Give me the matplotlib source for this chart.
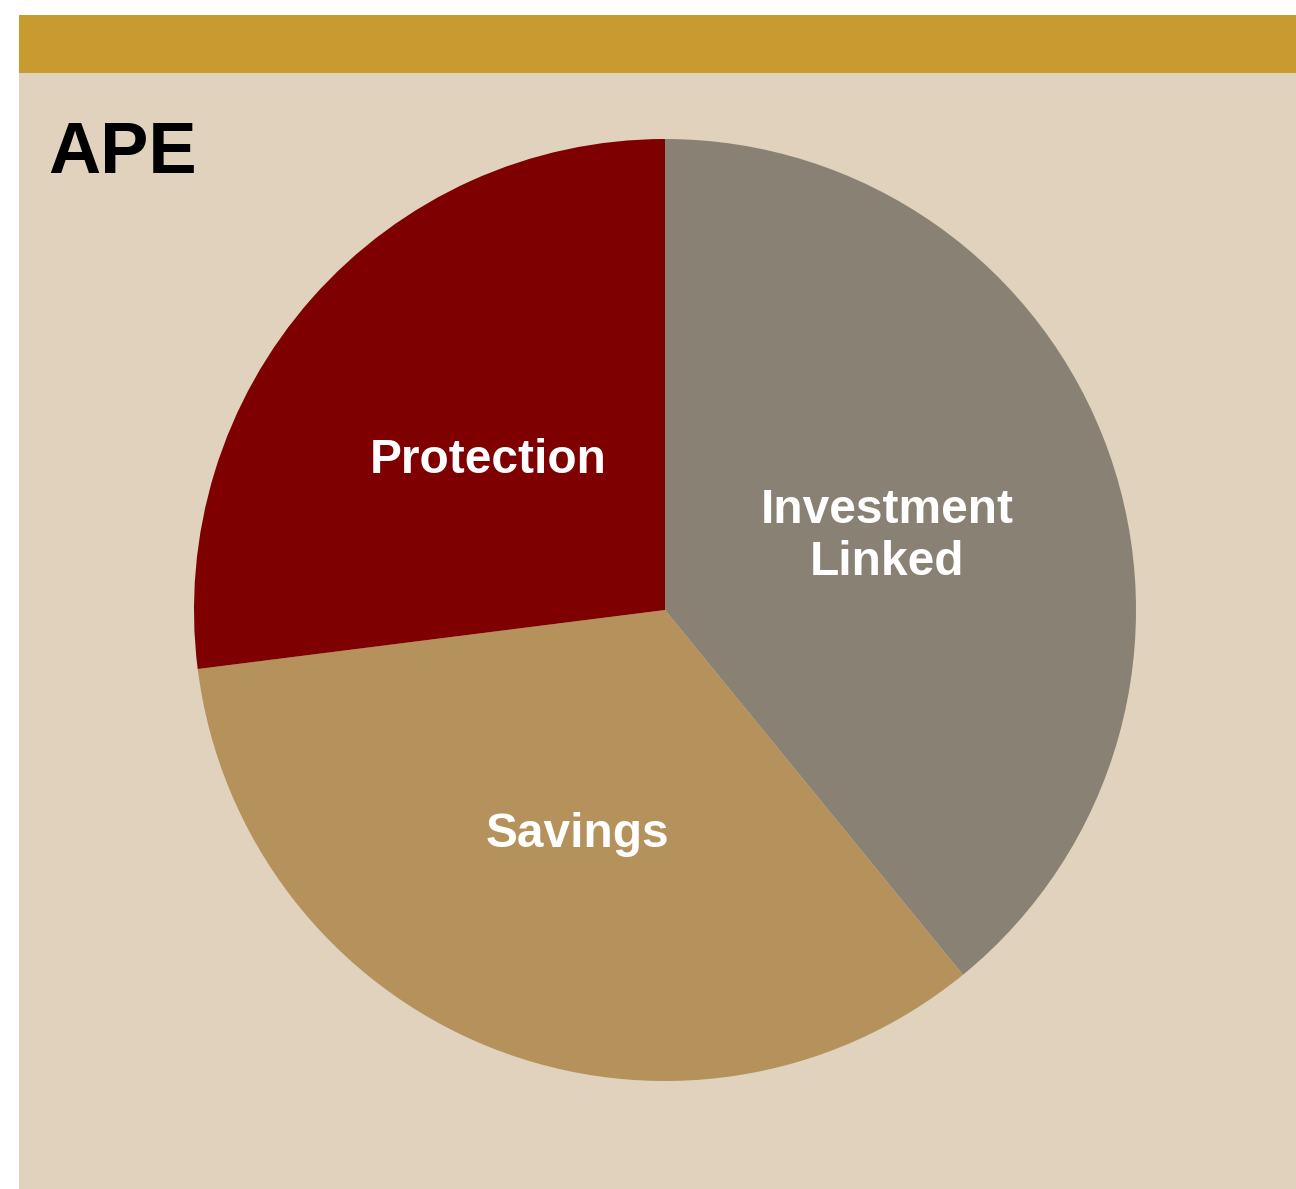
import matplotlib.pyplot as plt
from matplotlib.patches import Rectangle
from matplotlib.transforms import offset_copy

# APE split by product line (share, %)
labels = ["Investment\nLinked", "Savings", "Protection"]
shares = [39.1, 33.9, 27.0]
colors = ["#898174", "#B5915C", "#7F0000"]

bg_color = "#E0D2BC"
bar_color = "#C89B30"

W, H = 1296, 1189
fig = plt.figure(figsize=(W / 100, H / 100), dpi=100)
fig.patch.set_facecolor("white")

# beige panel + gold header bar (behind the pie axes)
fig.patches.append(Rectangle((19 / W, 0), 1 - 19 / W, (H - 73) / H,
                             transform=fig.transFigure, facecolor=bg_color, edgecolor="none", zorder=-2))
fig.patches.append(Rectangle((19 / W, (H - 73) / H), 1 - 19 / W, 58 / H,
                             transform=fig.transFigure, facecolor=bar_color, edgecolor="none", zorder=-2))

fig.text(48 / W, (H - 173) / H, "APE", fontsize=52, fontweight="bold",
         family="Liberation Sans", color="black", ha="left", va="baseline")

# pie: centre (665, 610), radius 471 px
cx, cy, r = 665, 610, 471
ax = fig.add_axes([(cx - r) / W, (H - cy - r) / H, 2 * r / W, 2 * r / H])
wedges, texts = ax.pie(shares, labels=labels, colors=colors, startangle=90,
                       counterclock=False, radius=1, labeldistance=0.5,
                       wedgeprops=dict(linewidth=0),
                       textprops=dict(color="white", fontsize=34.5, fontweight="bold",
                                      family="Liberation Sans"))
shift = offset_copy(ax.transData, fig=fig, x=0, y=-6, units="dots")
for t in texts:
    t.set_ha("center")
    t.set_va("center")
    t.set_multialignment("center")
    t.set_transform(shift)
ax.set_xlim(-1, 1)
ax.set_ylim(-1, 1)
ax.set_aspect("equal")
ax.axis("off")

fig.savefig("out.png", dpi=100)
